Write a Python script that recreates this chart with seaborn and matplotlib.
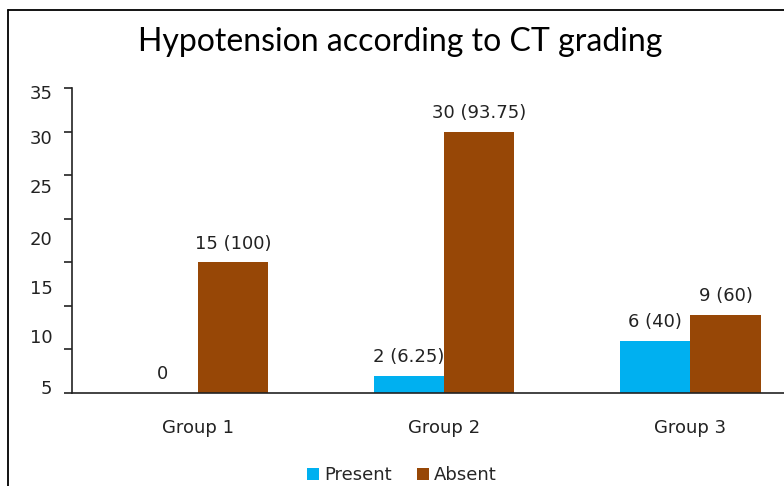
import pandas as pd
import matplotlib.pyplot as plt
from matplotlib.lines import Line2D
from matplotlib.ticker import FixedLocator
import seaborn as sns

# Datos del grafico
groups = ['Group 1', 'Group 2', 'Group 3']
present = [0, 2, 6]
absent = [15, 30, 9]
present_labels = ['0', '2 (6.25)', '6 (40)']
absent_labels = ['15 (100)', '30 (93.75)', '9 (60)']
status = ['Present', 'Absent']

# escala del eje y: marcas cada 5, etiquetas 5..35 (como en el original)
y_ticks = [0, 5, 10, 15, 20, 25, 30, 35]
y_tick_text = ['5', '10', '15', '20', '25', '30', '35']
y_text_pos = [0.7, 6.5, 12.2, 17.8, 23.7, 29.4, 34.55]

df = pd.DataFrame({
    'group': groups * 2,
    'count': present + absent,
    'status': [status[0]] * 3 + [status[1]] * 3,
})

sns.set_style('white')
plt.rcParams['font.family'] = ['DejaVu Sans']
plt.rcParams['font.sans-serif'] = ['DejaVu Sans']
txt = dict(fontsize=13, color='#222222', family='DejaVu Sans')

fig = plt.figure(figsize=(7.84, 4.86), dpi=100)
ax = fig.add_axes([72 / 784, 1 - 393 / 486, 1 - 72 / 784, (393 - 88) / 486])

sns.barplot(data=df, x='group', y='count', hue='status', hue_order=status,
            palette=['#00B0F0', '#974706'], width=0.57, gap=0, saturation=1,
            linewidth=0, ax=ax)

for cont, labs in zip(ax.containers, [present_labels, absent_labels]):
    ax.bar_label(cont, labels=labs, padding=7, **txt)

ax.set_xlim(-0.512, 2.38)
ax.set_ylim(0, 35)
ax.set_xlabel('')
ax.set_ylabel('')

ax.yaxis.set_major_locator(FixedLocator(y_text_pos))
ax.set_yticklabels(y_tick_text, **txt)
ax.yaxis.set_minor_locator(FixedLocator(y_ticks))
ax.set_xticks(range(len(groups)))
ax.set_xticklabels(groups, **txt)
ax.tick_params(axis='y', which='major', length=0, pad=14)
ax.tick_params(axis='y', which='minor', left=True, length=6, width=1.2,
               color='#222222')
ax.tick_params(axis='x', length=0, pad=19)

for s in ['top', 'right']:
    ax.spines[s].set_visible(False)
for s in ['left', 'bottom']:
    ax.spines[s].set_color('#222222')
    ax.spines[s].set_linewidth(1.2)

ax.legend(loc='center', bbox_to_anchor=(402 / 784, 1 - 475 / 486),
          bbox_transform=fig.transFigure, ncol=2, frameon=False,
          prop={'family': 'DejaVu Sans', 'size': 13},
          handlelength=0.65, handleheight=0.65,
          handletextpad=0.3, columnspacing=1.4)

fig.text(400 / 784, 1 - 42 / 486, 'Hypotension according to CT grading',
         ha='center', va='center', fontsize=23, family=['Lato'],
         color='black')

# marco del area del grafico
fig.add_artist(Line2D([8 / 784, 8 / 784], [0, 1 - 10 / 486],
                      transform=fig.transFigure, color='black', lw=1.3))
fig.add_artist(Line2D([8 / 784, 1], [1 - 10 / 486, 1 - 10 / 486],
                      transform=fig.transFigure, color='black', lw=1.3))

fig.savefig('out.png', dpi=100)
